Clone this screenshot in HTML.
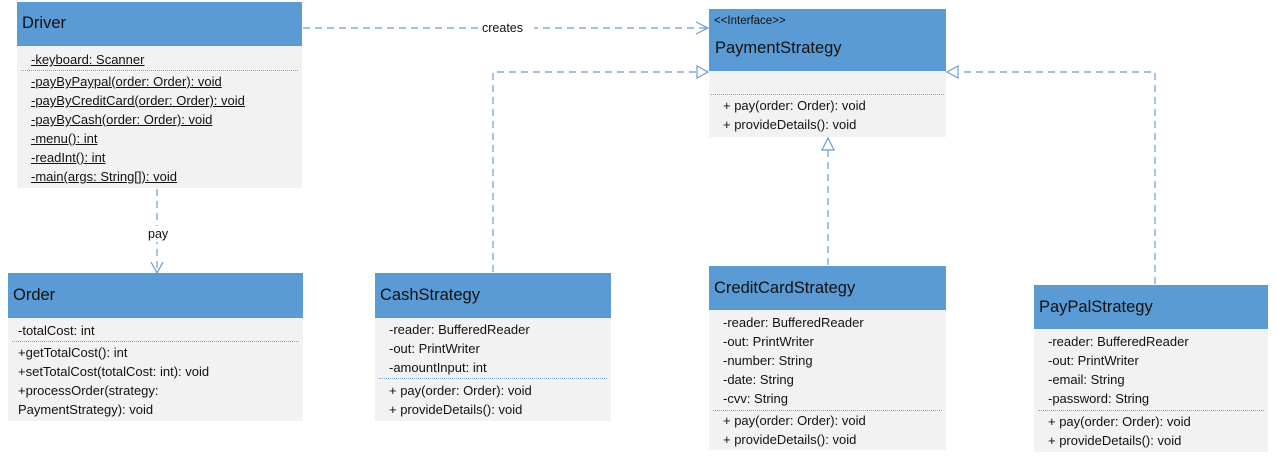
<!DOCTYPE html>
<html><head><meta charset="utf-8"><style>
body{margin:0;width:1276px;height:459px;background:#fff;position:relative;overflow:hidden;font-family:"Liberation Sans",sans-serif;color:#111}
.box{position:absolute;background:#f2f2f2}
.hd{background:#5b9bd5;position:relative}
.hd .t{position:absolute;left:6px;font-size:16.5px}
.ln{position:absolute;left:10px;font-size:13px;white-space:nowrap;line-height:19px}
.sep{position:absolute;left:4px;right:4px;border-top:1px dotted #7fa6d2}
.u{text-decoration:underline}
svg{position:absolute;left:0;top:0}
</style></head><body>

<div class="box" style="left:17px;top:2px;width:285px;height:186px">
 <div class="hd" style="height:44px"><span class="t" style="top:12px;left:5px">Driver</span></div>
 <div class="ln u" style="top:48px;left:14px">-keyboard: Scanner</div>
 <div class="sep" style="top:68px"></div>
 <div class="ln u" style="top:70px;left:14px">-payByPaypal(order: Order): void<br>-payByCreditCard(order: Order): void<br>-payByCash(order: Order): void<br>-menu(): int<br>-readInt(): int<br>-main(args: String[]): void</div>
</div>

<div class="box" style="left:709px;top:9px;width:237px;height:128px">
 <div class="hd" style="height:62px"><span class="t" style="top:6px;left:5px;font-size:11.5px">&lt;&lt;Interface&gt;&gt;</span><span class="t" style="top:30px;left:6px">PaymentStrategy</span></div>
 <div class="sep" style="top:85px;left:2px;right:2px"></div>
 <div class="ln" style="top:87px;left:14px">+ pay(order: Order): void<br>+ provideDetails(): void</div>
</div>

<div class="box" style="left:8px;top:273px;width:295px;height:148px">
 <div class="hd" style="height:45px"><span class="t" style="top:13px;left:5px">Order</span></div>
 <div class="ln" style="top:48px">-totalCost: int</div>
 <div class="sep" style="top:68px"></div>
 <div class="ln" style="top:70px">+getTotalCost(): int<br>+setTotalCost(totalCost: int): void<br>+processOrder(strategy:<br>PaymentStrategy): void</div>
</div>

<div class="box" style="left:375px;top:273px;width:236px;height:148px">
 <div class="hd" style="height:45px"><span class="t" style="top:13px;left:5px">CashStrategy</span></div>
 <div class="ln" style="top:47px;left:14px">-reader: BufferedReader<br>-out: PrintWriter<br>-amountInput: int</div>
 <div class="sep" style="top:105px"></div>
 <div class="ln" style="top:108px;left:14px">+ pay(order: Order): void<br>+ provideDetails(): void</div>
</div>

<div class="box" style="left:709px;top:266px;width:237px;height:184px">
 <div class="hd" style="height:44px"><span class="t" style="top:13px;left:5px">CreditCardStrategy</span></div>
 <div class="ln" style="top:47px;left:14px">-reader: BufferedReader<br>-out: PrintWriter<br>-number: String<br>-date: String<br>-cvv: String</div>
 <div class="sep" style="top:144px"></div>
 <div class="ln" style="top:145px;left:14px">+ pay(order: Order): void<br>+ provideDetails(): void</div>
</div>

<div class="box" style="left:1034px;top:285px;width:234px;height:167px">
 <div class="hd" style="height:44px"><span class="t" style="top:13px;left:5px">PayPalStrategy</span></div>
 <div class="ln" style="top:47px;left:14px">-reader: BufferedReader<br>-out: PrintWriter<br>-email: String<br>-password: String</div>
 <div class="sep" style="top:125px"></div>
 <div class="ln" style="top:127px;left:14px">+ pay(order: Order): void<br>+ provideDetails(): void</div>
</div>

<svg width="1276" height="459">
 <g stroke="#6a9bd1" stroke-width="1.2" fill="none" stroke-dasharray="7,5">
  <path d="M303 28 H706"/>
  <path d="M157 189 V270"/>
  <path d="M493 272 V72 H697"/>
  <path d="M828 265 V150"/>
  <path d="M1155 284 V72 H959"/>
 </g>
 <g stroke="#6a9bd1" stroke-width="1.2" fill="none">
  <path d="M696 22 L708 28 L696 34"/>
  <path d="M151 262 L157 273 L163 262"/>
 </g>
 <g stroke="#6a9bd1" stroke-width="1.2" fill="#fff">
  <path d="M697 66 L708 72 L697 78 Z"/>
  <path d="M958 66 L947 72 L958 78 Z"/>
  <path d="M822 150 L828 138 L834 150 Z"/>
 </g>
 <rect x="478" y="19" width="56" height="16" fill="#fff"/>
 <text x="482" y="32" font-family="Liberation Sans, sans-serif" font-size="12.5" fill="#111">creates</text>
 <rect x="145" y="226" width="28" height="16" fill="#fff"/>
 <text x="148" y="238" font-family="Liberation Sans, sans-serif" font-size="12.5" fill="#111">pay</text>
</svg>
</body></html>
